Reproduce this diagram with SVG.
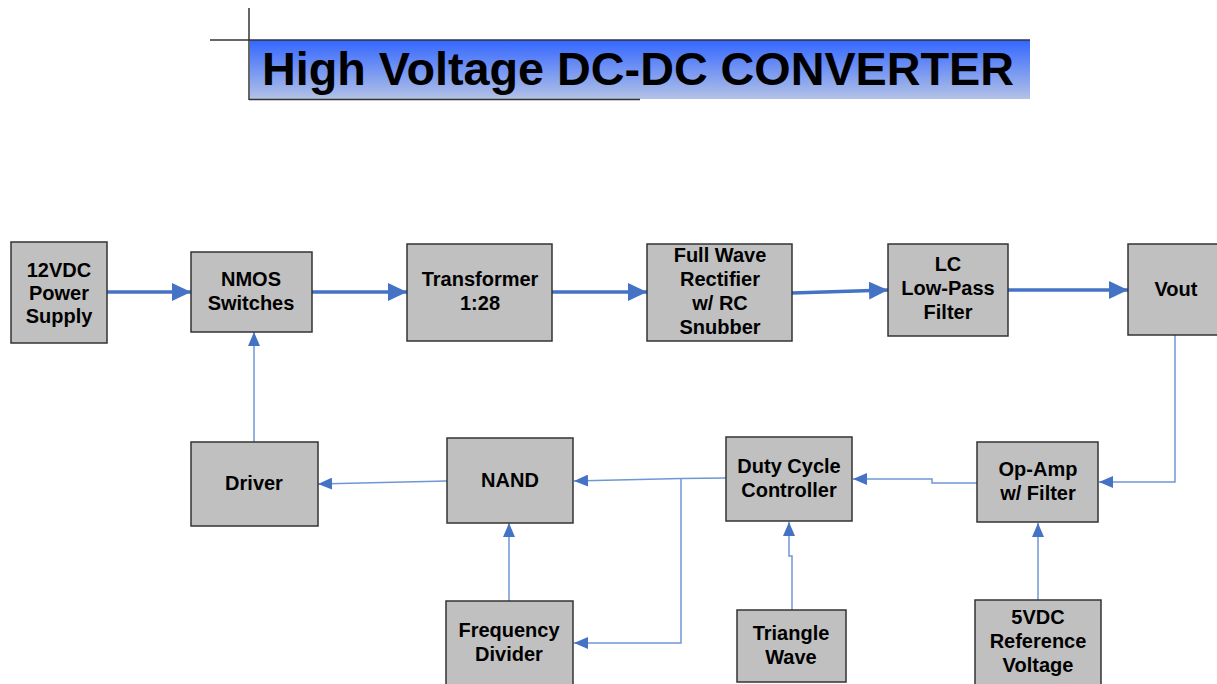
<svg xmlns="http://www.w3.org/2000/svg" width="1217" height="684" viewBox="0 0 1217 684">
<defs>
<linearGradient id="tg" x1="0" y1="0" x2="0" y2="1">
<stop offset="0" stop-color="#3366ff"/>
<stop offset="1" stop-color="#b3c2e6"/>
</linearGradient>
<marker id="ahs" viewBox="0 0 14 12" refX="14" refY="6" markerWidth="14" markerHeight="12" markerUnits="userSpaceOnUse" orient="auto">
<path d="M0,0 L14,6 L0,12 z" fill="#4472c4"/>
</marker>
<marker id="ahb" viewBox="0 0 19 18" refX="19" refY="9" markerWidth="19" markerHeight="18" markerUnits="userSpaceOnUse" orient="auto">
<path d="M0,0 L19,9 L0,18 z" fill="#4472c4"/>
</marker>
</defs>
<style>
.box{fill:#c0c0c0;stroke:#333;stroke-width:1.5}
.t{font-family:"Liberation Sans",Arial,sans-serif;font-weight:bold;font-size:20px;fill:#000;text-anchor:middle}
.thick{fill:none;stroke:#4472c4;stroke-width:3.5}
.thin{fill:none;stroke:#6f97d6;stroke-width:1.5}
</style>
<rect width="1217" height="684" fill="#fff"/>
<g id="title">
<rect x="250" y="40" width="780" height="59" fill="url(#tg)"/>
<line x1="210" y1="40" x2="1030" y2="40" stroke="#333" stroke-width="1.5"/>
<line x1="249" y1="8" x2="249" y2="100" stroke="#333" stroke-width="1.5"/>
<line x1="249" y1="99.5" x2="640" y2="99.5" stroke="#333" stroke-width="1.5"/>
<text x="638" y="85" font-family="Liberation Sans, Arial, sans-serif" font-weight="bold" font-size="47" text-anchor="middle" fill="#000" textLength="752" lengthAdjust="spacingAndGlyphs">High Voltage DC-DC CONVERTER</text>
</g>
<g id="connectors">
<line class="thick" x1="107" y1="292" x2="191" y2="292" marker-end="url(#ahb)"/>
<line class="thick" x1="312" y1="292" x2="407" y2="292" marker-end="url(#ahb)"/>
<line class="thick" x1="552" y1="292" x2="647" y2="292" marker-end="url(#ahb)"/>
<line class="thick" x1="792" y1="293" x2="888" y2="290" marker-end="url(#ahb)"/>
<line class="thick" x1="1008" y1="290" x2="1128" y2="290" marker-end="url(#ahb)"/>
<polyline class="thin" points="1175,335 1175,482 1099,482" marker-end="url(#ahs)"/>
<polyline class="thin" points="977,483 932,483 932,479 853,479" marker-end="url(#ahs)"/>
<line class="thin" x1="1038" y1="600" x2="1038" y2="523" marker-end="url(#ahs)"/>
<polyline class="thin" points="792,610 792,556 789,556 789,522" marker-end="url(#ahs)"/>
<polyline class="thin" points="726,478 681,478.5 574,481" marker-end="url(#ahs)"/>
<polyline class="thin" points="681,478.5 681,643 574,643" marker-end="url(#ahs)"/>
<line class="thin" x1="509" y1="601" x2="509" y2="523" marker-end="url(#ahs)"/>
<line class="thin" x1="447" y1="481" x2="318" y2="484" marker-end="url(#ahs)"/>
<line class="thin" x1="254" y1="442" x2="254" y2="332" marker-end="url(#ahs)"/>
</g>
<g id="n12vdc"><rect class="box" x="11" y="242" width="96" height="101"/>
<text class="t" x="59" y="277">12VDC</text><text class="t" x="59" y="300">Power</text><text class="t" x="59" y="323">Supply</text></g>
<g id="nmos"><rect class="box" x="191" y="252" width="121" height="80"/>
<text class="t" x="251" y="286">NMOS</text><text class="t" x="251" y="310">Switches</text></g>
<g id="transformer"><rect class="box" x="407" y="244" width="145" height="97"/>
<text class="t" x="480" y="286">Transformer</text><text class="t" x="480" y="310">1:28</text></g>
<g id="rectifier"><rect class="box" x="647" y="244" width="145" height="97"/>
<text class="t" x="720" y="262">Full Wave</text><text class="t" x="720" y="286">Rectifier</text><text class="t" x="720" y="310">w/ RC</text><text class="t" x="720" y="334">Snubber</text></g>
<g id="lcfilter"><rect class="box" x="888" y="244" width="120" height="92"/>
<text class="t" x="948" y="271">LC</text><text class="t" x="948" y="295">Low-Pass</text><text class="t" x="948" y="319">Filter</text></g>
<g id="vout"><rect class="box" x="1128" y="244" width="95" height="91"/>
<text class="t" x="1176" y="296">Vout</text></g>
<g id="driver"><rect class="box" x="191" y="442" width="127" height="84"/>
<text class="t" x="254" y="490">Driver</text></g>
<g id="nand"><rect class="box" x="447" y="438" width="126" height="85"/>
<text class="t" x="510" y="487">NAND</text></g>
<g id="duty"><rect class="box" x="726" y="437" width="126" height="84"/>
<text class="t" x="789" y="473">Duty Cycle</text><text class="t" x="789" y="497">Controller</text></g>
<g id="opamp"><rect class="box" x="977" y="442" width="121" height="80"/>
<text class="t" x="1038" y="476">Op-Amp</text><text class="t" x="1038" y="500">w/ Filter</text></g>
<g id="freqdiv"><rect class="box" x="446" y="601" width="127" height="90"/>
<text class="t" x="509" y="637">Frequency</text><text class="t" x="509" y="661">Divider</text></g>
<g id="triangle"><rect class="box" x="737" y="610" width="109" height="72"/>
<text class="t" x="791" y="640">Triangle</text><text class="t" x="791" y="664">Wave</text></g>
<g id="vref"><rect class="box" x="975" y="600" width="126" height="90"/>
<text class="t" x="1038" y="624">5VDC</text><text class="t" x="1038" y="648">Reference</text><text class="t" x="1038" y="672">Voltage</text></g>
</svg>
